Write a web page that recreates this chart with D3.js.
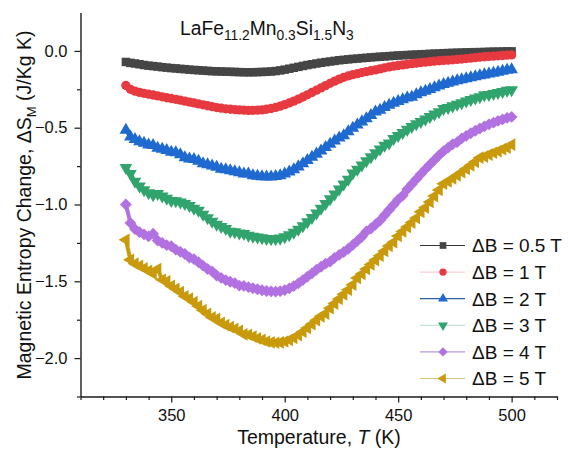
<!DOCTYPE html>
<html><head><meta charset="utf-8">
<script src="https://cdn.jsdelivr.net/npm/d3@7"></script>
<style>
body{margin:0;background:#fff}
svg{display:block}
text{font-family:"Liberation Sans",Arial,Helvetica,sans-serif;fill:#111}
</style>
</head><body>
<svg id="chart" width="568" height="456"></svg>
<script>
// ---------------- DATA ----------------
const temperature = [
330,332,334,336,338,340,342,344,346,348,
350,352,354,356,358,360,362,364,366,368,
370,372,374,376,378,380,382,384,386,388,
390,392,394,396,398,400,402,404,406,408,
410,412,414,416,418,420,422,424,426,428,
430,432,434,436,438,440,442,444,446,448,
450,452,454,456,458,460,462,464,466,468,
470,472,474,476,478,480,482,484,486,488,
490,492,494,496,498,500];

const dS_05T = [
-0.072,-0.078,-0.082,-0.087,-0.092,-0.096,-0.099,-0.102,-0.106,-0.109,
-0.112,-0.114,-0.117,-0.119,-0.122,-0.124,-0.126,-0.128,-0.130,-0.132,
-0.133,-0.134,-0.135,-0.136,-0.137,-0.138,-0.139,-0.139,-0.139,-0.138,
-0.137,-0.136,-0.134,-0.131,-0.127,-0.122,-0.116,-0.110,-0.104,-0.098,
-0.092,-0.087,-0.082,-0.077,-0.073,-0.069,-0.065,-0.061,-0.058,-0.055,
-0.052,-0.050,-0.047,-0.045,-0.042,-0.040,-0.038,-0.036,-0.034,-0.032,
-0.030,-0.028,-0.027,-0.025,-0.024,-0.022,-0.021,-0.019,-0.018,-0.017,
-0.015,-0.014,-0.013,-0.012,-0.011,-0.010,-0.009,-0.008,-0.008,-0.007,
-0.006,-0.005,-0.005,-0.004,-0.003,-0.003];

const dS_1T = [
-0.225,-0.250,-0.262,-0.270,-0.276,-0.282,-0.287,-0.293,-0.299,-0.305,
-0.310,-0.315,-0.321,-0.327,-0.333,-0.339,-0.345,-0.351,-0.357,-0.363,
-0.369,-0.373,-0.377,-0.380,-0.382,-0.384,-0.386,-0.387,-0.387,-0.386,
-0.384,-0.380,-0.375,-0.368,-0.360,-0.350,-0.339,-0.327,-0.314,-0.300,
-0.286,-0.271,-0.256,-0.241,-0.226,-0.211,-0.197,-0.184,-0.172,-0.163,
-0.155,-0.148,-0.141,-0.135,-0.129,-0.124,-0.117,-0.110,-0.104,-0.099,
-0.095,-0.091,-0.087,-0.083,-0.080,-0.076,-0.073,-0.070,-0.067,-0.064,
-0.062,-0.060,-0.058,-0.055,-0.053,-0.050,-0.047,-0.044,-0.041,-0.038,
-0.036,-0.034,-0.032,-0.030,-0.028,-0.026];

const dS_2T = [
-0.515,-0.560,-0.575,-0.590,-0.600,-0.612,-0.615,-0.632,-0.640,-0.648,
-0.658,-0.662,-0.675,-0.695,-0.702,-0.706,-0.718,-0.733,-0.740,-0.748,
-0.756,-0.770,-0.772,-0.779,-0.786,-0.793,-0.800,-0.800,-0.811,-0.815,
-0.818,-0.820,-0.820,-0.817,-0.811,-0.801,-0.788,-0.772,-0.754,-0.734,
-0.713,-0.692,-0.671,-0.650,-0.628,-0.606,-0.585,-0.566,-0.552,-0.525,
-0.503,-0.482,-0.461,-0.440,-0.420,-0.396,-0.385,-0.368,-0.353,-0.340,
-0.328,-0.317,-0.306,-0.300,-0.284,-0.272,-0.261,-0.250,-0.239,-0.228,
-0.218,-0.209,-0.201,-0.194,-0.187,-0.180,-0.173,-0.167,-0.161,-0.155,
-0.150,-0.144,-0.138,-0.131,-0.125,-0.122];

const dS_3T = [
-0.760,-0.800,-0.850,-0.880,-0.905,-0.925,-0.938,-0.930,-0.945,-0.960,
-0.975,-0.976,-0.985,-0.995,-1.008,-1.025,-1.038,-1.065,-1.088,-1.110,
-1.130,-1.145,-1.158,-1.175,-1.178,-1.187,-1.190,-1.202,-1.208,-1.213,
-1.218,-1.222,-1.224,-1.224,-1.220,-1.211,-1.198,-1.182,-1.162,-1.139,
-1.113,-1.085,-1.056,-1.026,-0.995,-0.964,-0.932,-0.900,-0.868,-0.836,
-0.796,-0.772,-0.744,-0.716,-0.690,-0.665,-0.640,-0.616,-0.600,-0.572,
-0.552,-0.532,-0.512,-0.493,-0.476,-0.460,-0.444,-0.428,-0.412,-0.397,
-0.376,-0.370,-0.359,-0.349,-0.339,-0.328,-0.317,-0.307,-0.299,-0.286,
-0.285,-0.279,-0.272,-0.265,-0.258,-0.254];

const dS_4T = [
-1.000,-1.120,-1.160,-1.180,-1.195,-1.208,-1.190,-1.235,-1.250,-1.265,
-1.272,-1.294,-1.308,-1.322,-1.345,-1.356,-1.376,-1.398,-1.420,-1.435,
-1.462,-1.478,-1.492,-1.503,-1.512,-1.528,-1.530,-1.538,-1.545,-1.552,
-1.558,-1.563,-1.566,-1.567,-1.564,-1.557,-1.546,-1.531,-1.513,-1.492,
-1.470,-1.448,-1.425,-1.405,-1.385,-1.372,-1.347,-1.328,-1.309,-1.288,
-1.263,-1.237,-1.210,-1.175,-1.156,-1.130,-1.104,-1.070,-1.036,-1.002,
-0.968,-0.942,-0.901,-0.868,-0.835,-0.802,-0.770,-0.740,-0.710,-0.680,
-0.653,-0.630,-0.608,-0.594,-0.570,-0.553,-0.536,-0.520,-0.505,-0.491,
-0.478,-0.467,-0.456,-0.446,-0.436,-0.430];

const dS_5T = [
-1.230,-1.360,-1.385,-1.400,-1.415,-1.432,-1.450,-1.420,-1.490,-1.500,
-1.530,-1.550,-1.570,-1.598,-1.612,-1.636,-1.662,-1.688,-1.712,-1.735,
-1.745,-1.771,-1.785,-1.798,-1.810,-1.823,-1.845,-1.848,-1.860,-1.872,
-1.882,-1.892,-1.898,-1.900,-1.898,-1.892,-1.882,-1.868,-1.850,-1.828,
-1.804,-1.779,-1.753,-1.728,-1.710,-1.675,-1.645,-1.615,-1.585,-1.555,
-1.522,-1.478,-1.452,-1.420,-1.390,-1.362,-1.333,-1.302,-1.270,-1.245,
-1.205,-1.175,-1.146,-1.118,-1.088,-1.048,-1.020,-0.983,-0.945,-0.905,
-0.865,-0.850,-0.830,-0.810,-0.790,-0.768,-0.745,-0.722,-0.695,-0.688,
-0.675,-0.663,-0.652,-0.640,-0.630,-0.610];

const seriesLabels = ["\u0394B = 0.5 T","\u0394B = 1 T","\u0394B = 2 T","\u0394B = 3 T","\u0394B = 4 T","\u0394B = 5 T"];
const seriesValues = [dS_05T, dS_1T, dS_2T, dS_3T, dS_4T, dS_5T];
const xTicks = [350, 400, 450, 500];
const xMinorTicks = [310,320,330,340,360,370,380,390,410,420,430,440,460,470,480,490,510,520];
const yTicks = [0.0, -0.5, -1.0, -1.5, -2.0];
const yMinorTicks = [-0.25, -0.75, -1.25, -1.75, -2.25];

// ---------------- STYLE ----------------
const fillColors = ["#454545","#e63a40","#1e6ad0","#30a46c","#b271e0","#c99a0b"];
const legendLineColors = ["#333333","#f4cfd0","#2a5e9c","#c6e4d6","#b99ad8","#d5c57c"];
const shapes = ["square","circle","triUp","triDown","diamond","triLeft"];

const svg = d3.select("#chart");
const x = d3.scaleLinear().domain([310, 520]).range([80.5, 557]);
const y = d3.scaleLinear().domain([-2.25, 0.25]).range([396.5, 12.5]);

function symbolFor(shape, big){
  const s = big ? 1 : 0.62;
  switch(shape){
    case "square":  return {type:d3.symbolSquare, size:72*s, rot:0};
    case "circle":  return {type:d3.symbolCircle, size:68*s, rot:0};
    case "triUp":   return {type:d3.symbolTriangle, size:70*s, rot:0};
    case "triDown": return {type:d3.symbolTriangle, size:70*s, rot:180};
    case "diamond": return {type:d3.symbolSquare, size:70*s, rot:45};
    case "triLeft": return {type:d3.symbolTriangle, size:70*s, rot:-90};
  }
}

// ---------------- SERIES ----------------
const plot = svg.append("g");
seriesValues.forEach((vals, i) => {
  const pts = temperature.map((t,k)=>[t, vals[k]]);
  plot.append("path").datum(pts)
    .attr("d", d3.line().x(d => x(d[0])).y(d => y(d[1])))
    .attr("fill","none").attr("stroke", fillColors[i]).attr("stroke-width", 4);
  const sym = symbolFor(shapes[i], true);
  const path = d3.symbol().type(sym.type).size(sym.size)();
  plot.append("g").selectAll("path").data(pts)
    .join("path")
    .attr("d", path)
    .attr("transform", d => `translate(${x(d[0])},${y(d[1])}) rotate(${sym.rot})`)
    .attr("fill", fillColors[i]);
});

// ---------------- AXES ----------------
const axisColor = "#1a1a1a";
svg.append("g").attr("transform","translate(0,396.5)")
  .call(d3.axisBottom(x).tickValues(xTicks).tickSize(6).tickSizeOuter(0).tickPadding(7).tickFormat(d3.format("d")));
svg.append("g").attr("transform","translate(0,396.5)")
  .call(d3.axisBottom(x).tickValues(xMinorTicks).tickSize(3.5).tickSizeOuter(0).tickFormat(""))
  .select(".domain").remove();
svg.append("g").attr("transform","translate(80.5,0)")
  .call(d3.axisLeft(y).tickValues(yTicks).tickSize(6).tickSizeOuter(0).tickPadding(7)
    .tickFormat(d => (d === 0 ? "0.0" : d3.format(".1f")(d))));
svg.append("g").attr("transform","translate(80.5,0)")
  .call(d3.axisLeft(y).tickValues(yMinorTicks).tickSize(3.5).tickSizeOuter(0).tickFormat(""))
  .select(".domain").remove();

svg.selectAll(".domain").attr("stroke", axisColor).attr("stroke-width", 1.4);
svg.selectAll(".tick line").attr("stroke", axisColor).attr("stroke-width", 1.2);
svg.selectAll(".tick text").attr("font-size", 16.5).attr("fill", "#222")
  .attr("font-family", '"Liberation Sans",Arial,sans-serif');

// ---------------- TITLES ----------------
const xt = svg.append("text").attr("x", 319).attr("y", 444).attr("text-anchor","middle")
  .attr("font-size", 19.5).attr("fill","#111");
xt.append("tspan").text("Temperature, ");
xt.append("tspan").attr("font-style","italic").text("T");
xt.append("tspan").text(" (K)");

const yt = svg.append("text").attr("transform","translate(31,205) rotate(-90)")
  .attr("text-anchor","middle").attr("font-size", 19.5).attr("fill","#111");
yt.append("tspan").text("Magnetic Entropy Change, \u0394S");
yt.append("tspan").attr("font-size", 13).attr("dy", 5).text("M");
yt.append("tspan").attr("dy", -5).text(" (J/Kg K)");

const tt = svg.append("text").attr("x", 180).attr("y", 35).attr("font-size", 19.3).attr("fill","#111");
const titleParts = [["LaFe",0],["11.2",1],["Mn",0],["0.3",1],["Si",0],["1.5",1],["N",0],["3",1]];
let prevSub = 0;
titleParts.forEach(([txt, sub]) => {
  const dy = (sub - prevSub) * 4.5;
  tt.append("tspan").attr("dy", dy).attr("font-size", sub ? 13.8 : 19.3).text(txt);
  prevSub = sub;
});

// ---------------- LEGEND ----------------
const legend = svg.append("g");
seriesLabels.forEach((lab, i) => {
  const ly = 245.5 + i * 26.6;
  legend.append("line").attr("x1", 420).attr("x2", 465).attr("y1", ly).attr("y2", ly)
    .attr("stroke", legendLineColors[i]).attr("stroke-width", 1.2);
  const sym = symbolFor(shapes[i], false);
  legend.append("path").attr("d", d3.symbol().type(sym.type).size(sym.size)())
    .attr("transform", `translate(443,${ly}) rotate(${sym.rot})`)
    .attr("fill", fillColors[i]);
  legend.append("text").attr("x", 472).attr("y", ly).attr("dy", "0.36em")
    .attr("font-size", 19).attr("fill","#111").text(lab);
});
</script>
</body></html>
